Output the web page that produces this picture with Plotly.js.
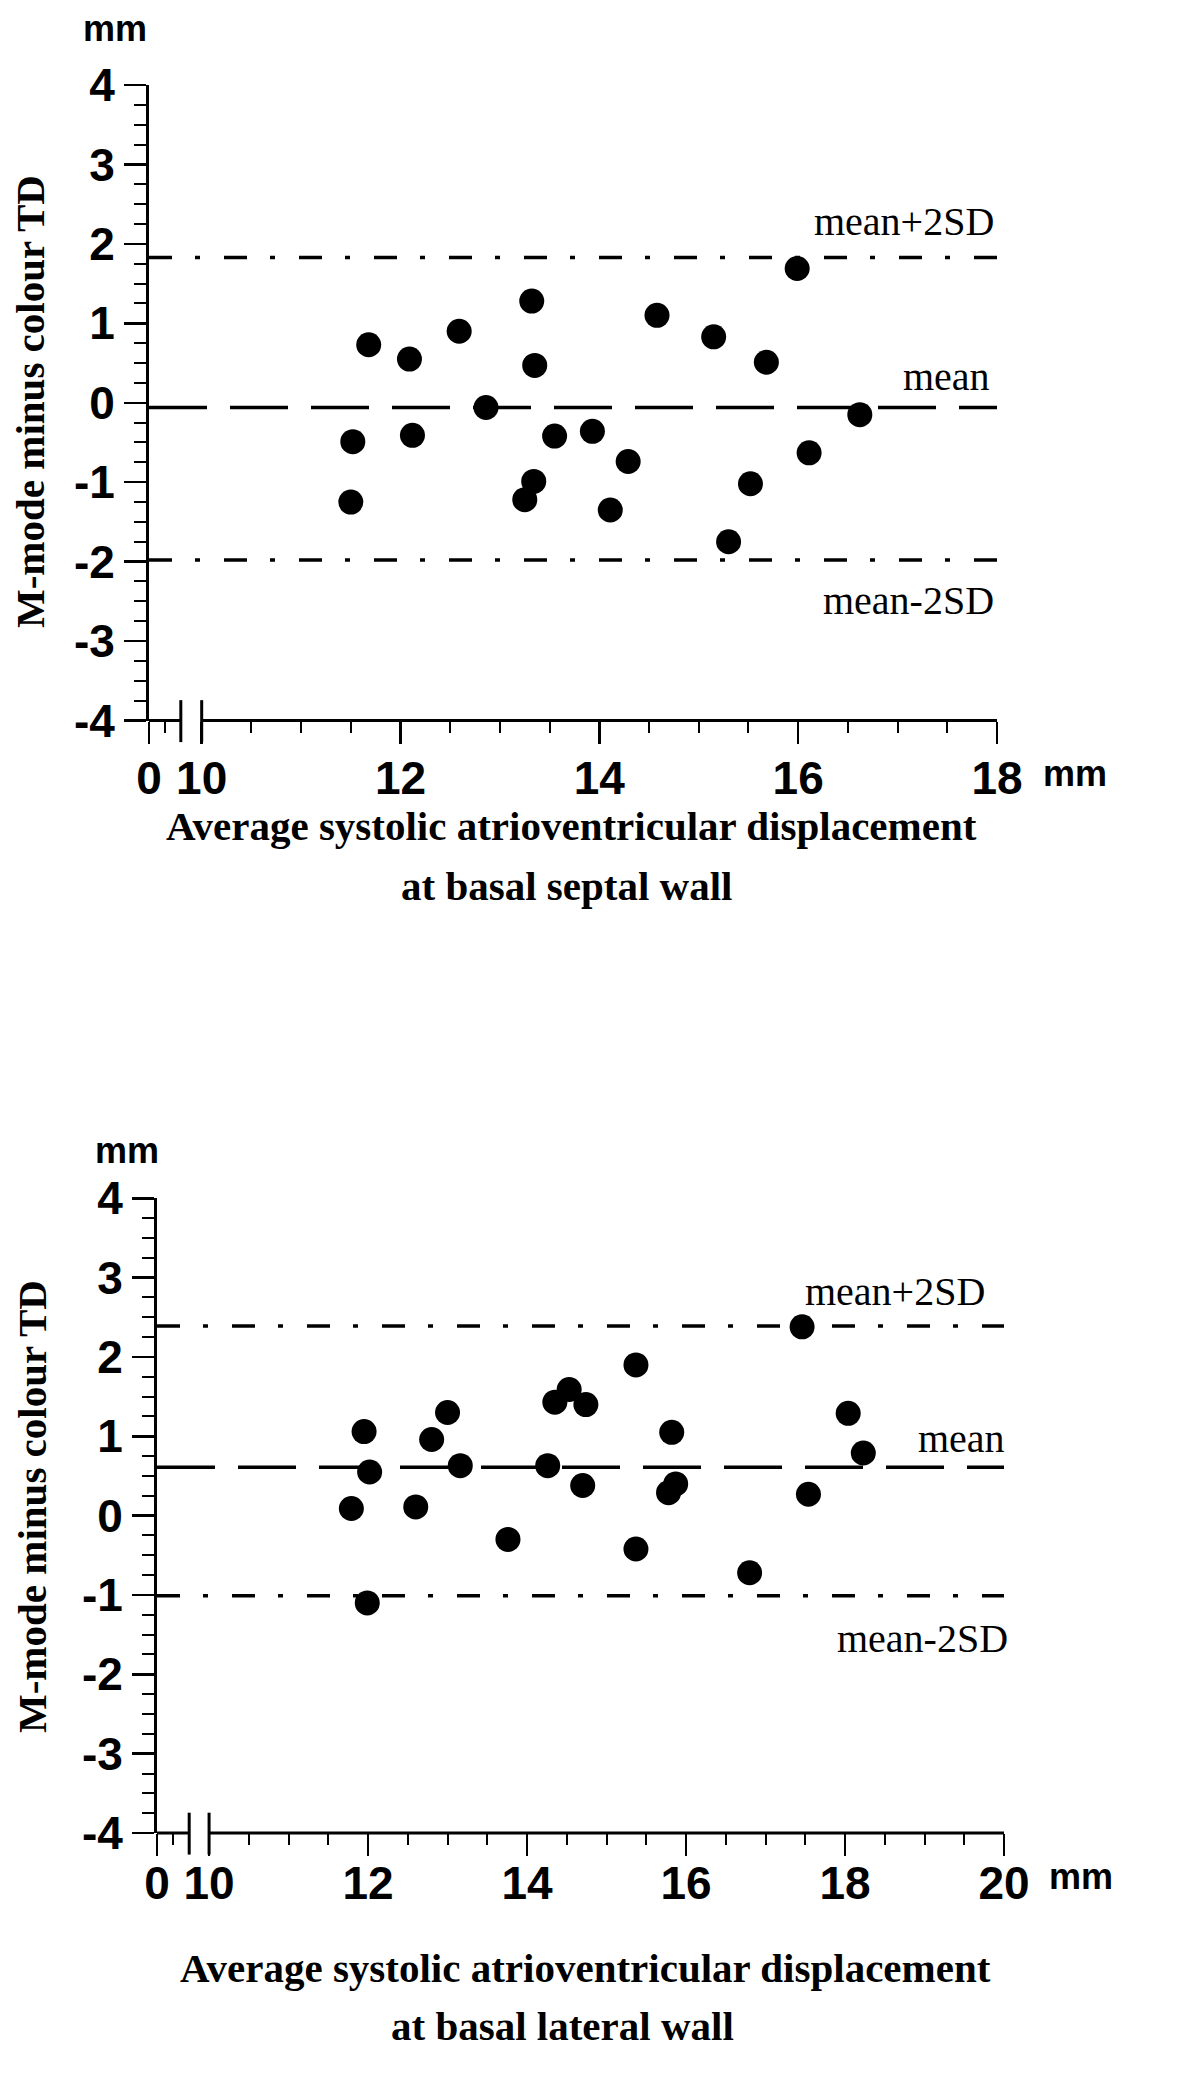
<!DOCTYPE html>
<html>
<head>
<meta charset="utf-8">
<script src="https://cdn.plot.ly/plotly-3.0.1.min.js"></script>
<style>html,body{margin:0;padding:0;background:#fff;}</style>
</head>
<body>
<div id="chart" style="width:1200px;height:2090px;"></div>
<script>
// ---------- data: basal septal wall ----------
const septalX = [11.52, 11.50, 11.68, 12.09, 12.12, 12.59, 12.86, 13.25, 13.32, 13.34, 13.35, 13.55,
                 13.93, 14.11, 14.29, 14.58, 15.15, 15.30, 15.52, 15.68, 15.99, 16.11, 16.62];
const septalY = [-0.49, -1.25, 0.73, 0.55, -0.41, 0.90, -0.06, -1.22, 1.28, -0.99, 0.47, -0.42,
                 -0.36, -1.35, -0.74, 1.10, 0.83, -1.75, -1.02, 0.51, 1.69, -0.63, -0.15];
const septalMean = -0.06;
const septalUpper = 1.83;
const septalLower = -1.98;

// ---------- data: basal lateral wall ----------
const lateralX = [11.79, 11.95, 12.02, 11.99, 12.60, 12.80, 13.00, 13.16, 13.76, 14.26, 14.35, 14.53,
                  14.74, 14.70, 15.37, 15.37, 15.78, 15.82, 15.87, 16.80, 17.46, 17.54, 18.04, 18.23];
const lateralY = [0.09, 1.06, 0.55, -1.10, 0.11, 0.96, 1.30, 0.63, -0.30, 0.63, 1.43, 1.59,
                  1.40, 0.38, 1.90, -0.42, 0.29, 1.05, 0.40, -0.72, 2.38, 0.27, 1.29, 0.79];
const lateralMean = 0.61;
const lateralUpper = 2.39;
const lateralLower = -1.01;

// ---------- axis ticks ----------
const yTickVals = [4, 3, 2, 1, 0, -1, -2, -3, -4];
const yTickText = ['4', '3', '2', '1', '0', '-1', '-2', '-3', '-4'];
// the "0" position is the start of the broken axis (axis origin)
const septalOrigin = 9.47, septalBreak = 9.79, septalMax = 18;
const septalTickVals = [septalOrigin, 10, 12, 14, 16, 18];
const septalTickText = ['0', '10', '12', '14', '16', '18'];
const septalMinor = [9.63, 10.5, 11, 11.5, 12.5, 13, 13.5, 14.5, 15, 15.5, 16.5, 17, 17.5];

const lateralOrigin = 9.345, lateralBreak = 9.75, lateralMax = 20;
const lateralTickVals = [lateralOrigin, 10, 12, 14, 16, 18, 20];
const lateralTickText = ['0', '10', '12', '14', '16', '18', '20'];
const lateralMinor = [9.54, 10.5, 11, 11.5, 12.5, 13, 13.5, 14.5, 15, 15.5, 16.5, 17, 17.5, 18.5, 19, 19.5];

// ---------- layout helpers ----------
const W = 1200, H = 2090;
const py = p => 1 - p / H;     // pixel row -> paper y
const pxx = p => p / W;        // pixel column -> paper x

const tickFont = {family: 'Liberation Sans, Arial, sans-serif', size: 46, color: '#000', weight: 700};
const serifBold = {family: 'Liberation Serif, Times New Roman, serif', size: 41, color: '#000', weight: 700};
const serifReg = {family: 'Liberation Serif, Times New Roman, serif', size: 40, color: '#000'};
const mmFont = {family: 'Liberation Sans, Arial, sans-serif', size: 36, color: '#000', weight: 700};

function xAxis(domain, range, vals, text, minor, anchor, standoff) {
  return {
    domain: domain, range: range, anchor: anchor,
    showline: false, zeroline: false, showgrid: false, fixedrange: true,
    tickmode: 'array', tickvals: vals, ticktext: text,
    ticks: 'outside', ticklen: 22, tickwidth: 2.5, tickcolor: '#000',
    tickfont: tickFont, ticklabelstandoff: standoff,
    minor: {tickmode: 'array', tickvals: minor, ticks: 'outside', ticklen: 11,
            tickwidth: 2, tickcolor: '#000', showgrid: false}
  };
}
function yAxis(domain, anchor) {
  return {
    domain: domain, range: [-4, 4], anchor: anchor,
    showline: true, linewidth: 3, linecolor: '#000',
    zeroline: false, showgrid: false, fixedrange: true,
    tickmode: 'array', tickvals: yTickVals, ticktext: yTickText,
    ticks: 'outside', ticklen: 22, tickwidth: 2.5, tickcolor: '#000',
    tickfont: tickFont, ticklabelstandoff: 0,
    minor: {tick0: 0, dtick: 0.25, ticks: 'outside', ticklen: 12,
            tickwidth: 2, tickcolor: '#000', showgrid: false}
  };
}

const dashMean = '58px,23px';
const dashSD = '23px,23px,5px,24px';

function refLine(xref, yref, x0, x1, y, dash) {
  return {type: 'line', xref: xref, yref: yref, x0: x0, x1: x1, y0: y, y1: y,
          line: {color: '#000', width: 3.5, dash: dash}};
}
function axisSeg(xref, ydom, x0, x1) {
  return {type: 'line', xref: xref, yref: ydom, x0: x0, x1: x1, y0: 0, y1: 0,
          line: {color: '#000', width: 3}};
}
function breakMark(xref, ydom, x) {
  return {type: 'line', xref: xref, yref: ydom, x0: x, x1: x, y0: -0.034, y1: 0.032,
          line: {color: '#000', width: 3}};
}

const traces = [
  {x: septalX, y: septalY, xaxis: 'x', yaxis: 'y', type: 'scatter', mode: 'markers',
   marker: {color: '#000', size: 25}, hoverinfo: 'x+y'},
  {x: lateralX, y: lateralY, xaxis: 'x2', yaxis: 'y2', type: 'scatter', mode: 'markers',
   marker: {color: '#000', size: 25}, hoverinfo: 'x+y'}
];

const shapes = [
  refLine('x', 'y', septalOrigin, septalMax, septalUpper, dashSD),
  refLine('x', 'y', septalOrigin, septalMax, septalMean, dashMean),
  refLine('x', 'y', septalOrigin, septalMax, septalLower, dashSD),
  axisSeg('x', 'y domain', septalOrigin, septalBreak),
  axisSeg('x', 'y domain', 10, septalMax),
  breakMark('x', 'y domain', septalBreak),
  breakMark('x', 'y domain', 10),

  refLine('x2', 'y2', lateralOrigin, lateralMax, lateralUpper, dashSD),
  refLine('x2', 'y2', lateralOrigin, lateralMax, lateralMean, dashMean),
  refLine('x2', 'y2', lateralOrigin, lateralMax, lateralLower, dashSD),
  axisSeg('x2', 'y2 domain', lateralOrigin, lateralBreak),
  axisSeg('x2', 'y2 domain', 10, lateralMax),
  breakMark('x2', 'y2 domain', lateralBreak),
  breakMark('x2', 'y2 domain', 10)
];

function label(text, xref, yref, x, y, xanchor, yanchor, xshift, yshift, font) {
  return {text: text, xref: xref, yref: yref, x: x, y: y, xanchor: xanchor, yanchor: yanchor,
          xshift: xshift, yshift: yshift, showarrow: false, font: font};
}

const annotations = [
  // top chart
  label('mean+2SD', 'x', 'y', septalMax, septalUpper, 'right', 'bottom', -1, 11, serifReg),
  label('mean', 'x', 'y', septalMax, septalMean, 'right', 'bottom', -5, 7, serifReg),
  label('mean-2SD', 'x', 'y', septalMax, septalLower, 'right', 'top', -1, -16, serifReg),
  label('mm', 'paper', 'paper', pxx(115), py(29), 'center', 'middle', 0, 0, mmFont),
  label('mm', 'paper', 'paper', pxx(1041), py(773), 'left', 'middle', 0, 0, mmFont),
  {text: 'M-mode minus colour TD', xref: 'paper', yref: 'paper', x: pxx(30), y: py(402),
   xanchor: 'center', yanchor: 'middle', textangle: -90, showarrow: false, font: serifBold},
  label('Average systolic atrioventricular displacement', 'paper', 'paper', pxx(571), py(826), 'center', 'middle', 0, 0, serifBold),
  label('at basal septal wall', 'paper', 'paper', pxx(566), py(886), 'center', 'middle', 0, 0, serifBold),

  // bottom chart
  label('mean+2SD', 'x2', 'y2', lateralMax, lateralUpper, 'right', 'bottom', -17, 10, serifReg),
  label('mean', 'x2', 'y2', lateralMax, lateralMean, 'right', 'bottom', 3, 4, serifReg),
  label('mean-2SD', 'x2', 'y2', lateralMax, lateralLower, 'right', 'top', 6, -18, serifReg),
  label('mm', 'paper', 'paper', pxx(127), py(1150), 'center', 'middle', 0, 0, mmFont),
  label('mm', 'paper', 'paper', pxx(1047), py(1876), 'left', 'middle', 0, 0, mmFont),
  {text: 'M-mode minus colour TD', xref: 'paper', yref: 'paper', x: pxx(32), y: py(1507),
   xanchor: 'center', yanchor: 'middle', textangle: -90, showarrow: false, font: serifBold},
  label('Average systolic atrioventricular displacement', 'paper', 'paper', pxx(585), py(1968), 'center', 'middle', 0, 0, serifBold),
  label('at basal lateral wall', 'paper', 'paper', pxx(562), py(2026), 'center', 'middle', 0, 0, serifBold)
];

const layout = {
  width: W, height: H,
  margin: {l: 0, r: 0, t: 0, b: 0},
  paper_bgcolor: '#fff', plot_bgcolor: '#fff',
  showlegend: false,
  xaxis: xAxis([pxx(149), pxx(997)], [septalOrigin, septalMax], septalTickVals, septalTickText, septalMinor, 'y', -5),
  yaxis: yAxis([py(720.5), py(85)], 'x'),
  xaxis2: xAxis([pxx(157), pxx(1004)], [lateralOrigin, lateralMax], lateralTickVals, lateralTickText, lateralMinor, 'y2', -12),
  yaxis2: yAxis([py(1833), py(1198.3)], 'x2'),
  shapes: shapes,
  annotations: annotations
};

Plotly.newPlot('chart', traces, layout, {displayModeBar: false, staticPlot: true});
</script>
</body>
</html>
